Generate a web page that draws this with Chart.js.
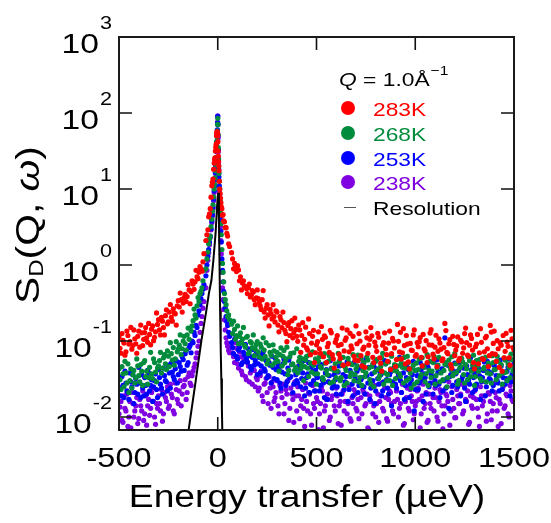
<!DOCTYPE html>
<html>
<head>
<meta charset="utf-8">
<title>S_D(Q, ω) at Q = 1.0 Å⁻¹</title>
<script src="https://cdn.jsdelivr.net/npm/chart.js@4/dist/chart.umd.min.js"></script>
<style>
  html, body { margin: 0; padding: 0; background: #fff; }
  canvas { display: block; }
</style>
</head>
<body>
<canvas id="sqwChart" width="551" height="523"></canvas>
<script>
// Energy channels (µeV). Wings come in two interleaved sets 5 µeV apart,
// the elastic peak is sampled more finely.
const energyLow = [-500, -490, -480, -470, -460, -450, -440, -430, -420, -410,
  -400, -390, -380, -370, -360, -350, -340, -330, -320, -310,
  -300, -290, -280, -270, -260, -250, -240, -230, -220, -210,
  -200, -190, -180, -170, -160, -150, -140, -130, -120, -110,
  -100, -90, -80, -70];
const energyPeak = [-60, -55, -50, -46, -42, -38, -34, -30, -27, -24, -21, -18, -16, -14, -12, -10,
  -8, -6, -5, -4, -3, -2, -1, 0, 1, 2, 3, 4, 5, 6, 8, 10, 12, 14, 16, 18,
  21, 24, 27, 30, 34, 38, 42, 46, 50, 55, 60];
const energyHigh = [70, 80, 90, 100, 110, 120, 130, 140, 150, 160, 170, 180, 190,
  200, 210, 220, 230, 240, 250, 260, 270, 280, 290,
  300, 310, 320, 330, 340, 350, 360, 370, 380, 390, 400,
  410, 420, 430, 440, 450, 460, 470, 480, 490, 500,
  510, 520, 530, 540, 550, 560, 570, 580, 590, 600,
  610, 620, 630, 640, 650, 660, 670, 680, 690, 700,
  710, 720, 730, 740, 750, 760, 770, 780, 790, 800,
  810, 820, 830, 840, 850, 860, 870, 880, 890, 900,
  910, 920, 930, 940, 950, 960, 970, 980, 990, 1000,
  1010, 1020, 1030, 1040, 1050, 1060, 1070, 1080, 1090, 1100,
  1110, 1120, 1130, 1140, 1150, 1160, 1170, 1180, 1190, 1200,
  1210, 1220, 1230, 1240, 1250, 1260, 1270, 1280, 1290, 1300,
  1310, 1320, 1330, 1340, 1350, 1360, 1370, 1380, 1390, 1400,
  1410, 1420, 1430, 1440, 1450, 1460, 1470, 1480, 1490, 1500];
const energyLowB = [-495, -485, -475, -465, -455, -445, -435, -425, -415, -405,
  -395, -385, -375, -365, -355, -345, -335, -325, -315, -305,
  -295, -285, -275, -265, -255, -245, -235, -225, -215, -205,
  -195, -185, -175, -165, -155, -145, -135, -125, -115, -105,
  -95, -85, -75];
const energyHighB = [75, 85, 95, 105, 115, 125, 135, 145, 155, 165, 175, 185, 195,
  205, 215, 225, 235, 245, 255, 265, 275, 285, 295,
  305, 315, 325, 335, 345, 355, 365, 375, 385, 395,
  405, 415, 425, 435, 445, 455, 465, 475, 485, 495,
  505, 515, 525, 535, 545, 555, 565, 575, 585, 595,
  605, 615, 625, 635, 645, 655, 665, 675, 685, 695,
  705, 715, 725, 735, 745, 755, 765, 775, 785, 795,
  805, 815, 825, 835, 845, 855, 865, 875, 885, 895,
  905, 915, 925, 935, 945, 955, 965, 975, 985, 995,
  1005, 1015, 1025, 1035, 1045, 1055, 1065, 1075, 1085, 1095,
  1105, 1115, 1125, 1135, 1145, 1155, 1165, 1175, 1185, 1195,
  1205, 1215, 1225, 1235, 1245, 1255, 1265, 1275, 1285, 1295,
  1305, 1315, 1325, 1335, 1345, 1355, 1365, 1375, 1385, 1395,
  1405, 1415, 1425, 1435, 1445, 1455, 1465, 1475, 1485, 1495];

// 283 K
const s283Low = [0.112, 0.069, 0.102, 0.065, 0.135, 0.091, 0.151, 0.087, 0.107, 0.069,
  0.135, 0.162, 0.087, 0.129, 0.110, 0.170, 0.089, 0.158, 0.112, 0.234,
  0.191, 0.120, 0.182, 0.120, 0.257, 0.178, 0.302, 0.182, 0.234, 0.162,
  0.339, 0.427, 0.240, 0.372, 0.331, 0.550, 0.309, 0.617, 0.479, 0.85,
  0.66, 0.95, 0.83, 1.41];
const s283Peak = [2.1, 2.5, 2.9, 4.3, 4.7, 5.5, 7.8, 11, 12.3, 13.5,
  18.2, 21.9, 24.5, 25.7, 31.6, 35.5, 38.9, 50, 55, 52,
  57, 55, 54, 50, 42, 31.6, 27, 23, 20, 17.4,
  12.6, 10, 8.7, 7.6, 6.6, 5.8, 5.5, 4.5, 4.6, 3.8,
  3.7, 3.1, 3.1, 2.6, 2.4, 1.9, 1.75];
const s283High = [1.45, 0.89, 0.95, 0.98, 0.62, 0.47, 0.62, 0.52, 0.42, 0.56, 0.40, 0.44, 0.30,
  0.47, 0.32, 0.26, 0.46, 0.20, 0.30, 0.158, 0.23, 0.30, 0.178,
  0.24, 0.132, 0.19, 0.24, 0.138, 0.098, 0.174, 0.145, 0.110, 0.20, 0.115,
  0.162, 0.071, 0.174, 0.105, 0.081, 0.195, 0.066, 0.115, 0.052, 0.089,
  0.132, 0.069, 0.105, 0.117, 0.052, 0.093, 0.138, 0.066, 0.044, 0.105,
  0.087, 0.059, 0.148, 0.074, 0.110, 0.050, 0.126, 0.079, 0.063, 0.158,
  0.055, 0.100, 0.047, 0.083, 0.132, 0.069, 0.105, 0.117, 0.052, 0.085,
  0.126, 0.060, 0.040, 0.095, 0.079, 0.054, 0.135, 0.068, 0.100, 0.046,
  0.165, 0.072, 0.058, 0.145, 0.050, 0.091, 0.043, 0.076, 0.120, 0.063,
  0.095, 0.098, 0.061, 0.122, 0.074, 0.052, 0.089, 0.141, 0.067, 0.083,
  0.046, 0.107, 0.078, 0.058, 0.170, 0.071, 0.092, 0.049, 0.115, 0.064,
  0.086, 0.055, 0.102, 0.069, 0.125, 0.095, 0.063, 0.120, 0.076, 0.043,
  0.091, 0.050, 0.145, 0.058, 0.072, 0.115, 0.046, 0.160, 0.068, 0.135,
  0.054, 0.079, 0.095, 0.040, 0.060, 0.126, 0.085, 0.048, 0.107, 0.076];
const s283LowB = [0.080, 0.125, 0.094, 0.072, 0.118, 0.098, 0.078, 0.140, 0.092, 0.115,
  0.083, 0.128, 0.105, 0.150, 0.096, 0.122, 0.143, 0.101, 0.132, 0.165,
  0.140, 0.205, 0.150, 0.215, 0.168, 0.240, 0.205, 0.265, 0.228, 0.290,
  0.280, 0.350, 0.315, 0.410, 0.385, 0.470, 0.445, 0.560, 0.600, 0.700,
  0.80, 0.88, 1.10];
const s283HighB = [1.20, 1.05, 0.82, 0.86, 0.70, 0.58, 0.53, 0.49, 0.50, 0.38, 0.46, 0.35, 0.37,
  0.36, 0.29, 0.35, 0.24, 0.27, 0.22, 0.26, 0.195, 0.21, 0.25,
  0.162, 0.21, 0.150, 0.175, 0.125, 0.160, 0.118, 0.185, 0.128, 0.142,
  0.099, 0.140, 0.118, 0.088, 0.152, 0.076, 0.125, 0.094, 0.138, 0.070,
  0.098, 0.079, 0.155, 0.062, 0.112, 0.084, 0.071, 0.128, 0.058, 0.096,
  0.118, 0.067, 0.090, 0.048, 0.102, 0.140, 0.072, 0.086, 0.115, 0.056,
  0.092, 0.125, 0.064, 0.078, 0.045, 0.110, 0.088, 0.150, 0.061, 0.097,
  0.073, 0.112, 0.051, 0.088, 0.128, 0.066, 0.094, 0.042, 0.108, 0.081,
  0.057, 0.099, 0.130, 0.070, 0.087, 0.118, 0.053, 0.093, 0.075, 0.140,
  0.066, 0.084, 0.111, 0.047, 0.079, 0.101, 0.062, 0.127, 0.088, 0.058,
  0.119, 0.073, 0.094, 0.055, 0.082, 0.137, 0.068, 0.104, 0.044, 0.090,
  0.076, 0.113, 0.059, 0.097, 0.081, 0.148, 0.065, 0.088, 0.108, 0.052,
  0.084, 0.122, 0.070, 0.096, 0.057, 0.110, 0.079, 0.064, 0.131, 0.093,
  0.067, 0.101, 0.045, 0.088, 0.118, 0.073, 0.097, 0.060, 0.138, 0.082];

// 268 K
const s268Low = [0.043, 0.023, 0.037, 0.054, 0.028, 0.021, 0.043, 0.036, 0.028, 0.058,
  0.035, 0.049, 0.026, 0.055, 0.040, 0.033, 0.071, 0.032, 0.052, 0.029,
  0.047, 0.071, 0.044, 0.066, 0.042, 0.063, 0.095, 0.056, 0.048, 0.098,
  0.078, 0.120, 0.079, 0.115, 0.076, 0.148, 0.148, 0.158, 0.263, 0.200,
  0.372, 0.417, 0.50, 0.85];
const s268Peak = [0.89, 1.2, 1.48, 1.9, 2.2, 2.4, 3.2, 4.0, 5.1, 6.2,
  7.9, 10, 11.5, 14, 17.4, 21, 26, 33, 37, 43,
  49, 58, 71, 85, 70, 52, 35, 25, 20, 16,
  12.6, 10, 7.1, 5.0, 3.5, 2.5, 1.6, 1.05, 0.8, 0.6,
  0.42, 0.35, 0.30, 0.25, 0.21, 0.22, 0.19];
const s268High = [0.166, 0.182, 0.105, 0.158, 0.115, 0.095, 0.151, 0.083, 0.115, 0.072, 0.095, 0.120, 0.078,
  0.098, 0.062, 0.083, 0.110, 0.063, 0.050, 0.087, 0.065, 0.089, 0.052,
  0.071, 0.040, 0.081, 0.063, 0.052, 0.083, 0.041, 0.069, 0.050, 0.041, 0.079,
  0.054, 0.043, 0.058, 0.046, 0.063, 0.034, 0.051, 0.072, 0.037, 0.027,
  0.054, 0.046, 0.033, 0.068, 0.041, 0.054, 0.028, 0.059, 0.041, 0.033,
  0.069, 0.030, 0.048, 0.026, 0.041, 0.059, 0.034, 0.049, 0.030, 0.043,
  0.065, 0.033, 0.026, 0.052, 0.038, 0.056, 0.031, 0.046, 0.025, 0.054,
  0.042, 0.035, 0.060, 0.027, 0.050, 0.036, 0.030, 0.063, 0.041, 0.032,
  0.047, 0.037, 0.051, 0.028, 0.044, 0.063, 0.032, 0.024, 0.048, 0.041,
  0.029, 0.058, 0.036, 0.047, 0.029, 0.066, 0.041, 0.033, 0.052, 0.027,
  0.044, 0.061, 0.038, 0.031, 0.049, 0.025, 0.056, 0.042, 0.035, 0.068,
  0.039, 0.030, 0.046, 0.053, 0.028, 0.043, 0.062, 0.034, 0.048, 0.026,
  0.055, 0.040, 0.032, 0.059, 0.045, 0.029, 0.051, 0.037, 0.064, 0.042,
  0.031, 0.054, 0.046, 0.027, 0.060, 0.039, 0.050, 0.033, 0.057, 0.044];
const s268LowB = [0.031, 0.046, 0.025, 0.038, 0.050, 0.030, 0.024, 0.041, 0.033, 0.047,
  0.029, 0.040, 0.052, 0.034, 0.027, 0.045, 0.037, 0.058, 0.039, 0.044,
  0.055, 0.038, 0.060, 0.050, 0.074, 0.046, 0.068, 0.082, 0.058, 0.072,
  0.088, 0.066, 0.100, 0.092, 0.120, 0.105, 0.135, 0.185, 0.220, 0.290,
  0.33, 0.45, 0.62];
const s268HighB = [0.125, 0.142, 0.118, 0.092, 0.128, 0.106, 0.088, 0.112, 0.068, 0.098, 0.082, 0.064, 0.090,
  0.072, 0.091, 0.058, 0.076, 0.095, 0.056, 0.071, 0.048, 0.074, 0.061,
  0.054, 0.066, 0.047, 0.075, 0.058, 0.036, 0.062, 0.049, 0.070, 0.045,
  0.038, 0.061, 0.049, 0.030, 0.056, 0.044, 0.066, 0.039, 0.048, 0.058,
  0.037, 0.062, 0.044, 0.031, 0.051, 0.036, 0.064, 0.043, 0.029, 0.050,
  0.040, 0.054, 0.033, 0.061, 0.045, 0.028, 0.052, 0.038, 0.066, 0.036,
  0.047, 0.029, 0.058, 0.041, 0.034, 0.062, 0.044, 0.027, 0.050, 0.039,
  0.057, 0.032, 0.046, 0.069, 0.038, 0.030, 0.053, 0.043, 0.026, 0.049,
  0.040, 0.058, 0.034, 0.045, 0.061, 0.030, 0.052, 0.038, 0.044, 0.027,
  0.051, 0.042, 0.033, 0.060, 0.045, 0.037, 0.026, 0.054, 0.040, 0.063,
  0.035, 0.048, 0.029, 0.057, 0.041, 0.052, 0.033, 0.046, 0.062, 0.037,
  0.050, 0.027, 0.044, 0.059, 0.036, 0.049, 0.031, 0.055, 0.040, 0.065,
  0.034, 0.047, 0.057, 0.030, 0.043, 0.061, 0.038, 0.048, 0.028, 0.052,
  0.042, 0.063, 0.035, 0.049, 0.038, 0.056, 0.030, 0.045, 0.067, 0.040];

// 253 K
const s253Low = [0.031, 0.019, 0.026, 0.040, 0.022, 0.017, 0.029, 0.036, 0.021, 0.027,
  0.045, 0.018, 0.024, 0.033, 0.020, 0.038, 0.026, 0.016, 0.030, 0.023,
  0.042, 0.027, 0.020, 0.035, 0.029, 0.048, 0.024, 0.039, 0.031, 0.055,
  0.036, 0.046, 0.062, 0.041, 0.075, 0.052, 0.088, 0.100, 0.13, 0.16,
  0.22, 0.30, 0.42, 0.55];
const s253Peak = [0.72, 1.0, 1.3, 1.6, 2.0, 2.4, 3.0, 3.8, 4.6, 5.8,
  7.4, 9.5, 11.2, 13.5, 16.5, 20, 25, 32, 36, 42,
  50, 60, 74, 90, 72, 50, 33, 24, 18, 14.5,
  11, 8.5, 6.0, 4.0, 2.8, 2.0, 1.2, 0.85, 0.6, 0.45,
  0.33, 0.27, 0.21, 0.18, 0.16, 0.13, 0.115];
const s253High = [0.095, 0.068, 0.11, 0.058, 0.082, 0.049, 0.071, 0.090, 0.053, 0.064, 0.042, 0.077, 0.055,
  0.036, 0.061, 0.047, 0.072, 0.040, 0.033, 0.052, 0.028, 0.045, 0.060,
  0.031, 0.043, 0.024, 0.050, 0.037, 0.029, 0.056, 0.034, 0.021, 0.041, 0.030,
  0.047, 0.025, 0.038, 0.019, 0.033, 0.052, 0.027, 0.040, 0.022, 0.035,
  0.046, 0.026, 0.031, 0.018, 0.042, 0.029, 0.055, 0.024, 0.036, 0.020,
  0.039, 0.031, 0.048, 0.023, 0.034, 0.016, 0.041, 0.027, 0.052, 0.030,
  0.021, 0.044, 0.033, 0.025, 0.058, 0.028, 0.017, 0.037, 0.047, 0.022,
  0.032, 0.040, 0.019, 0.029, 0.050, 0.024, 0.036, 0.014, 0.043, 0.027,
  0.033, 0.061, 0.021, 0.038, 0.026, 0.045, 0.018, 0.031, 0.054, 0.023,
  0.035, 0.028, 0.042, 0.016, 0.033, 0.049, 0.025, 0.037, 0.020, 0.030,
  0.057, 0.027, 0.039, 0.022, 0.110, 0.032, 0.013, 0.036, 0.026, 0.051,
  0.029, 0.041, 0.019, 0.034, 0.024, 0.047, 0.030, 0.060, 0.021, 0.038,
  0.027, 0.044, 0.017, 0.033, 0.053, 0.025, 0.040, 0.031, 0.022, 0.048,
  0.035, 0.028, 0.056, 0.023, 0.039, 0.032, 0.045, 0.019, 0.036, 0.050];
const s253LowB = [0.024, 0.034, 0.018, 0.028, 0.021, 0.038, 0.025, 0.015, 0.032, 0.020,
  0.028, 0.036, 0.019, 0.026, 0.041, 0.022, 0.031, 0.025, 0.037, 0.018,
  0.033, 0.024, 0.044, 0.030, 0.022, 0.038, 0.051, 0.034, 0.043, 0.028,
  0.052, 0.040, 0.057, 0.068, 0.048, 0.082, 0.070, 0.095, 0.118, 0.150,
  0.25, 0.36, 0.48];
const s253HighB = [0.082, 0.105, 0.063, 0.076, 0.095, 0.052, 0.066, 0.058, 0.079, 0.046, 0.061, 0.048, 0.068,
  0.050, 0.038, 0.066, 0.043, 0.055, 0.035, 0.048, 0.063, 0.032, 0.042,
  0.048, 0.028, 0.039, 0.058, 0.026, 0.044, 0.033, 0.049, 0.027, 0.036,
  0.028, 0.043, 0.032, 0.055, 0.024, 0.037, 0.021, 0.046, 0.030, 0.041,
  0.033, 0.022, 0.049, 0.028, 0.038, 0.017, 0.035, 0.044, 0.026, 0.031,
  0.025, 0.047, 0.020, 0.036, 0.029, 0.053, 0.023, 0.038, 0.019, 0.034,
  0.040, 0.026, 0.031, 0.050, 0.020, 0.035, 0.045, 0.024, 0.030, 0.015,
  0.043, 0.027, 0.036, 0.022, 0.055, 0.031, 0.020, 0.039, 0.029, 0.046,
  0.024, 0.037, 0.030, 0.049, 0.017, 0.033, 0.042, 0.027, 0.036, 0.012,
  0.041, 0.023, 0.052, 0.031, 0.037, 0.020, 0.045, 0.028, 0.034, 0.053,
  0.026, 0.039, 0.018, 0.043, 0.030, 0.024, 0.048, 0.034, 0.021, 0.040,
  0.037, 0.025, 0.052, 0.031, 0.044, 0.016, 0.036, 0.027, 0.042, 0.033,
  0.023, 0.049, 0.035, 0.029, 0.041, 0.019, 0.054, 0.032, 0.038, 0.026,
  0.044, 0.030, 0.022, 0.047, 0.033, 0.027, 0.040, 0.058, 0.029, 0.037];

// 238 K
const s238Low = [0.011, 0.016, 0.0085, 0.013, 0.020, 0.010, 0.0072, 0.015, 0.012, 0.018,
  0.0095, 0.014, 0.022, 0.011, 0.0078, 0.017, 0.013, 0.024, 0.010, 0.015,
  0.019, 0.012, 0.0088, 0.021, 0.016, 0.013, 0.027, 0.018, 0.011, 0.023,
  0.015, 0.030, 0.020, 0.026, 0.017, 0.034, 0.028, 0.035, 0.045, 0.060,
  0.085, 0.13, 0.21, 0.33];
const s238Peak = [0.5, 0.85, 1.15, 1.45, 1.85, 2.3, 2.9, 3.6, 4.4, 5.5,
  7.0, 9.0, 10.8, 13, 16, 19.5, 24, 31, 35, 41,
  49, 59, 76, 92, 70, 47, 31, 22, 16.5, 13,
  9.5, 7.0, 4.8, 3.2, 2.1, 1.4, 0.8, 0.5, 0.35, 0.26,
  0.19, 0.14, 0.11, 0.095, 0.085, 0.075, 0.07];
const s238High = [0.085, 0.062, 0.095, 0.050, 0.072, 0.040, 0.060, 0.034, 0.052, 0.029, 0.044, 0.062, 0.025,
  0.031, 0.024, 0.040, 0.016, 0.028, 0.021, 0.034, 0.013, 0.025, 0.018,
  0.030, 0.011, 0.022, 0.027, 0.015, 0.020, 0.009, 0.024, 0.017, 0.029, 0.012,
  0.019, 0.014, 0.023, 0.0075, 0.016, 0.021, 0.011, 0.026, 0.013, 0.018,
  0.0068, 0.015, 0.022, 0.012, 0.017, 0.029, 0.010, 0.019, 0.014, 0.024,
  0.0082, 0.016, 0.020, 0.012, 0.027, 0.015, 0.0095, 0.018, 0.023, 0.013,
  0.017, 0.031, 0.011, 0.021, 0.015, 0.0072, 0.019, 0.025, 0.014, 0.010,
  0.020, 0.016, 0.028, 0.012, 0.018, 0.0088, 0.022, 0.015, 0.011, 0.026,
  0.017, 0.013, 0.021, 0.0078, 0.016, 0.024, 0.012, 0.019, 0.0092, 0.014,
  0.022, 0.017, 0.011, 0.027, 0.015, 0.0085, 0.020, 0.013, 0.018, 0.024,
  0.010, 0.016, 0.021, 0.0070, 0.014, 0.019, 0.029, 0.012, 0.017, 0.0098,
  0.023, 0.015, 0.020, 0.011, 0.026, 0.016, 0.0080, 0.019, 0.013, 0.022,
  0.017, 0.010, 0.025, 0.014, 0.019, 0.0088, 0.021, 0.016, 0.012, 0.028,
  0.018, 0.0075, 0.015, 0.023, 0.013, 0.020, 0.011, 0.026, 0.017, 0.032];
const s238LowB = [0.0135, 0.0090, 0.019, 0.012, 0.0075, 0.016, 0.021, 0.010, 0.014, 0.0082,
  0.017, 0.012, 0.0090, 0.019, 0.014, 0.0105, 0.021, 0.016, 0.0080, 0.013,
  0.015, 0.023, 0.011, 0.018, 0.025, 0.014, 0.020, 0.012, 0.028, 0.017,
  0.022, 0.014, 0.025, 0.031, 0.021, 0.038, 0.026, 0.040, 0.050, 0.070,
  0.10, 0.17, 0.27];
const s238HighB = [0.070, 0.052, 0.080, 0.044, 0.062, 0.036, 0.054, 0.031, 0.047, 0.038, 0.027, 0.041, 0.033,
  0.022, 0.035, 0.019, 0.027, 0.032, 0.015, 0.024, 0.029, 0.016, 0.021,
  0.014, 0.026, 0.018, 0.011, 0.023, 0.030, 0.013, 0.020, 0.0085, 0.019,
  0.025, 0.0095, 0.017, 0.013, 0.028, 0.012, 0.020, 0.0078, 0.015, 0.022,
  0.016, 0.011, 0.025, 0.0072, 0.014, 0.020, 0.0090, 0.017, 0.027, 0.012,
  0.019, 0.014, 0.0078, 0.022, 0.016, 0.011, 0.025, 0.0088, 0.015, 0.020,
  0.012, 0.0095, 0.018, 0.023, 0.014, 0.020, 0.0068, 0.016, 0.011, 0.026,
  0.015, 0.0085, 0.019, 0.013, 0.024, 0.0095, 0.017, 0.021, 0.012, 0.016,
  0.022, 0.010, 0.015, 0.027, 0.0082, 0.018, 0.013, 0.023, 0.016, 0.0110,
  0.016, 0.024, 0.0072, 0.019, 0.013, 0.021, 0.0090, 0.015, 0.028, 0.012,
  0.018, 0.0088, 0.023, 0.014, 0.011, 0.020, 0.016, 0.0078, 0.025, 0.013,
  0.0098, 0.019, 0.015, 0.027, 0.012, 0.017, 0.022, 0.0085, 0.014, 0.018,
  0.024, 0.013, 0.0075, 0.019, 0.016, 0.029, 0.011, 0.020, 0.0092, 0.015,
  0.021, 0.012, 0.017, 0.0082, 0.025, 0.014, 0.019, 0.0100, 0.022, 0.016];

// instrument resolution
const resolutionEnergy = [-170, -146, -138, -110, -83, -59, -45, -32, -22, -11, -4, 0, 3,
  6, 9, 12, 15, 18, 21, 24, 27];
const resolutionValue = [0.0028, 0.0072, 0.010, 0.032, 0.10, 0.24, 0.42, 0.63, 1.17, 2.6, 5.6, 8.0, 8.9,
  4.0, 1.0, 0.25, 0.079, 0.032, 0.0126, 0.005, 0.002];

const temperatures = ['283K', '268K', '253K', '238K'];
const xTickValues = [-500, 0, 500, 1000, 1500];
const yTickExponents = [-2, -1, 0, 1, 2, 3];

const COLORS = ['#ff0000', '#008c3c', '#0000ff', '#7f00e0'];
const FONT = "'Liberation Sans', Arial, Helvetica, sans-serif";
const STRETCH = 1.2;   // glyphs in this figure run wider than plain Arial
const TICK_LEN = 13;

const energy = [...energyLow, ...energyPeak, ...energyHigh, ...energyLowB, ...energyHighB];
const seriesValues = [
  [...s283Low, ...s283Peak, ...s283High, ...s283LowB, ...s283HighB],
  [...s268Low, ...s268Peak, ...s268High, ...s268LowB, ...s268HighB],
  [...s253Low, ...s253Peak, ...s253High, ...s253LowB, ...s253HighB],
  [...s238Low, ...s238Peak, ...s238High, ...s238LowB, ...s238HighB]
];

function toPoints(xs, ys) {
  if (xs.length !== ys.length) console.warn('length mismatch', xs.length, ys.length);
  const n = Math.min(xs.length, ys.length);
  const pts = [];
  for (let i = 0; i < n; i++) pts.push({ x: xs[i], y: ys[i] });
  return pts;
}

// text helpers: everything is drawn slightly widened
function textWidth(ctx, str, font) {
  ctx.save();
  ctx.font = font;
  const w = ctx.measureText(str).width * STRETCH;
  ctx.restore();
  return w;
}

function drawText(ctx, str, x, y, font, align, color) {
  ctx.save();
  ctx.font = font;
  ctx.fillStyle = color || '#000';
  ctx.textAlign = align || 'left';
  ctx.textBaseline = 'alphabetic';
  ctx.translate(x, y);
  ctx.scale(STRETCH, 1);
  ctx.fillText(str, 0, 0);
  ctx.restore();
}

const frameAndText = {
  id: 'frameAndText',
  afterDraw(chart) {
    const { ctx, chartArea: a, scales } = chart;
    const xs = scales.x, ys = scales.y;
    ctx.save();

    // inward ticks on all four sides
    ctx.strokeStyle = '#111';
    ctx.lineWidth = 1.6;
    ctx.beginPath();
    xTickValues.forEach(v => {
      const px = xs.getPixelForValue(v);
      ctx.moveTo(px, a.bottom); ctx.lineTo(px, a.bottom - TICK_LEN);
      ctx.moveTo(px, a.top); ctx.lineTo(px, a.top + TICK_LEN);
    });
    yTickExponents.forEach(e => {
      const py = ys.getPixelForValue(Math.pow(10, e));
      ctx.moveTo(a.left, py); ctx.lineTo(a.left + TICK_LEN, py);
      ctx.moveTo(a.right, py); ctx.lineTo(a.right - TICK_LEN, py);
    });
    ctx.stroke();

    ctx.lineWidth = 2;
    ctx.strokeStyle = '#1a1a1a';
    ctx.strokeRect(a.left, a.top, a.right - a.left, a.bottom - a.top);

    // y tick labels as 10 with a raised exponent
    const baseFont = '28px ' + FONT;
    const supFont = '18px ' + FONT;
    yTickExponents.forEach(e => {
      const py = ys.getPixelForValue(Math.pow(10, e));
      const sup = String(e);
      const right = a.left - 7;
      const sw = textWidth(ctx, sup, supFont);
      drawText(ctx, sup, right - sw, py - 8, supFont, 'left');
      drawText(ctx, '10', right - sw - 1, py + 16, baseFont, 'right');
    });

    // x tick labels
    xTickValues.forEach(v => {
      drawText(ctx, String(v), xs.getPixelForValue(v), a.bottom + 37, '27px ' + FONT, 'center');
    });

    // x title
    drawText(ctx, 'Energy transfer (µeV)', 307, 507, '31px ' + FONT, 'center');

    // y title, rotated, pieced together for the subscript and italic omega
    const parts = [
      { t: 'S', f: '34px ' + FONT, dy: 0 },
      { t: 'D', f: '20px ' + FONT, dy: 4 },
      { t: '(Q, ', f: '34px ' + FONT, dy: 0 },
      { t: 'ω', f: 'italic 34px ' + FONT, dy: 0 },
      { t: ')', f: '34px ' + FONT, dy: 0 }
    ];
    let total = 0;
    parts.forEach(p => { ctx.font = p.f; p.w = ctx.measureText(p.t).width; total += p.w; });
    ctx.save();
    ctx.translate(39, 225);
    ctx.rotate(-Math.PI / 2);
    ctx.scale(STRETCH, 1);
    ctx.fillStyle = '#000';
    ctx.textBaseline = 'alphabetic';
    ctx.textAlign = 'left';
    let cx = -total / 2;
    parts.forEach(p => {
      ctx.font = p.f;
      ctx.fillText(p.t, cx, p.dy);
      cx += p.w;
    });
    ctx.restore();

    // legend block
    const lf = '19px ' + FONT;
    drawText(ctx, 'Q', 339, 86, 'italic ' + lf, 'left');
    const qw = textWidth(ctx, 'Q', 'italic ' + lf);
    drawText(ctx, ' = 1.0Å', 339 + qw, 86, lf, 'left');
    const restW = textWidth(ctx, ' = 1.0Å', lf);
    drawText(ctx, '\u22121', 339 + qw + restW + 1, 75, '13px ' + FONT, 'left');

    const rowBase = [116, 141, 166, 190];
    temperatures.forEach((label, i) => {
      ctx.beginPath();
      ctx.fillStyle = COLORS[i];
      ctx.arc(348, rowBase[i] - 8, 7, 0, Math.PI * 2);
      ctx.fill();
      drawText(ctx, label, 373, rowBase[i], lf, 'left', COLORS[i]);
    });
    ctx.strokeStyle = '#555';
    ctx.lineWidth = 1;
    ctx.beginPath();
    ctx.moveTo(344, 207.5);
    ctx.lineTo(356, 207.5);
    ctx.stroke();
    drawText(ctx, 'Resolution', 373, 215, lf, 'left');

    ctx.restore();
  }
};

const datasets = seriesValues.map((vals, i) => ({
  label: temperatures[i],
  data: toPoints(energy, vals),
  backgroundColor: COLORS[i],
  pointBackgroundColor: COLORS[i],
  pointBorderWidth: 0,
  borderWidth: 0,
  pointRadius: 2.6,
  pointHoverRadius: 2.6,
  showLine: false,
  clip: 0,
  order: i + 1
}));

datasets.push({
  label: 'Resolution',
  data: toPoints(resolutionEnergy, resolutionValue),
  showLine: true,
  borderColor: '#000',
  borderWidth: 2,
  pointRadius: 0,
  pointHoverRadius: 0,
  tension: 0,
  fill: false,
  clip: 0,
  order: 0
});

new Chart(document.getElementById('sqwChart'), {
  type: 'scatter',
  data: { datasets },
  options: {
    responsive: false,
    animation: false,
    devicePixelRatio: 1,
    layout: { padding: { left: 119, right: 37, top: 37, bottom: 93 } },
    scales: {
      x: { type: 'linear', min: -500, max: 1500, display: false },
      y: { type: 'logarithmic', min: 0.00674, max: 1000, display: false }
    },
    plugins: {
      legend: { display: false },
      tooltip: { enabled: false }
    },
    events: []
  },
  plugins: [frameAndText]
});
</script>
</body>
</html>
